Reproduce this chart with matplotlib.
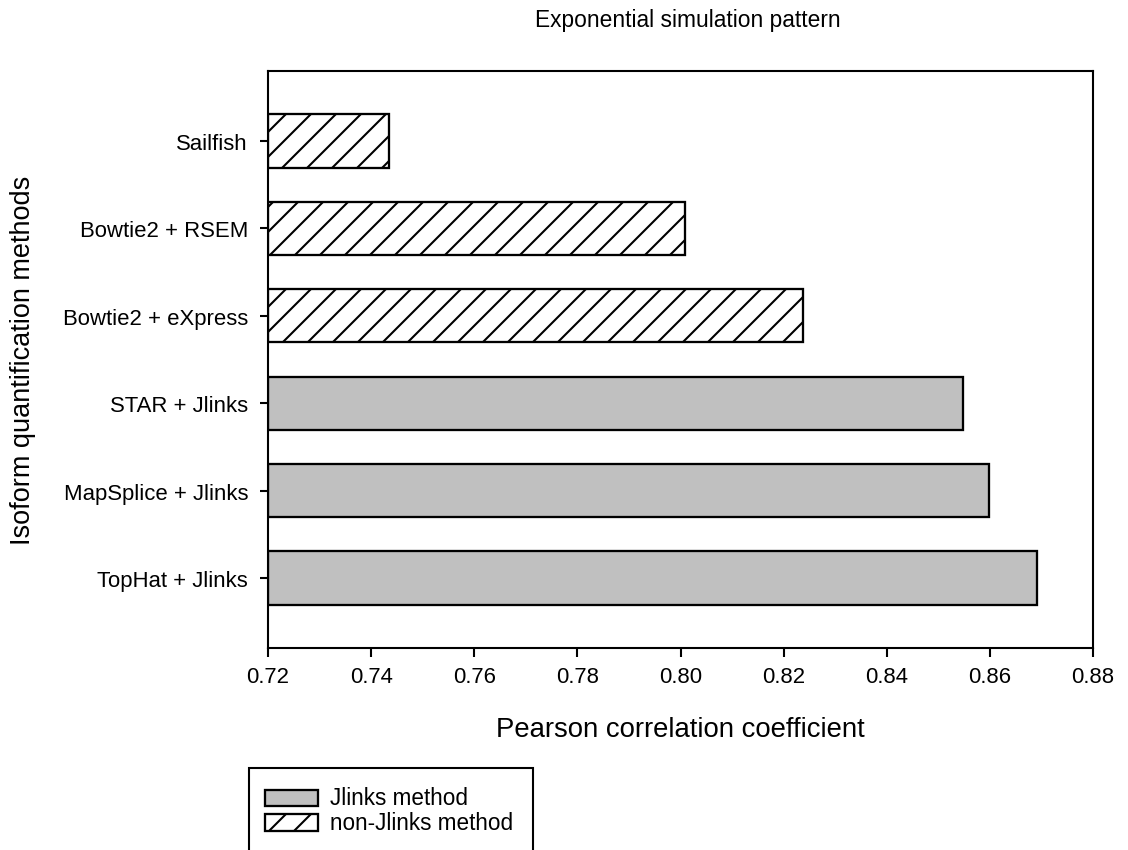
import matplotlib
matplotlib.use("Agg")
import matplotlib.pyplot as plt
from matplotlib.patches import Rectangle

# Data
methods = ["TopHat + Jlinks", "MapSplice + Jlinks", "STAR + Jlinks",
           "Bowtie2 + eXpress", "Bowtie2 + RSEM", "Sailfish"]
pearson = [0.8691, 0.8599, 0.8547, 0.8237, 0.8008, 0.7435]
is_jlinks = [True, True, True, False, False, False]
xticks = [0.72, 0.74, 0.76, 0.78, 0.80, 0.82, 0.84, 0.86, 0.88]

W, H, DPI = 1128, 851, 150
plt.rcParams["font.family"] = ["Liberation Sans", "DejaVu Sans"]
plt.rcParams["hatch.linewidth"] = 1.0

fig = plt.figure(figsize=(W / DPI, H / DPI), dpi=DPI)


def fx(x):
    return x / W


def fy(y):
    return 1 - y / H


ax = fig.add_axes([fx(268), fy(649), fx(1093) - fx(268), fy(72) - fy(649)])

xmin = xticks[0]
gray = "#c0c0c0"
for i, (v, j) in enumerate(zip(pearson, is_jlinks)):
    if j:
        ax.barh(i, v - xmin, left=xmin, height=0.61, color=gray,
                edgecolor="black", linewidth=1.1)
    else:
        ax.barh(i, v - xmin, left=xmin, height=0.61, color="white",
                edgecolor="black", linewidth=1.1, hatch="//")

ax.set_xlim(0.72, 0.88)
ax.set_ylim(-0.8, 5.8)
ax.set_xticks(xticks)
ax.set_xticklabels([f"{t:.2f}" for t in xticks])
ax.set_yticks(range(len(methods)))
ax.set_yticklabels(methods)
ax.tick_params(axis="x", direction="out", length=4.3, width=1.0,
               labelsize=10.6, pad=4.5, top=False)
ax.tick_params(axis="y", direction="out", length=3.8, width=1.0,
               labelsize=10.6, pad=5.8, right=False)
for s in ax.spines.values():
    s.set_linewidth(1.0)

fig.text(fx(688), fy(27), "Exponential simulation pattern", ha="center",
         va="baseline", fontsize=10.9)
fig.text(fx(680.5), fy(737), "Pearson correlation coefficient", ha="center",
         va="baseline", fontsize=13.2)
fig.text(fx(23.5), fy(360), "Isoform quantification methods", ha="center",
         va="center", rotation=90, fontsize=13.0)

# Legend drawn below the axes
box = Rectangle((fx(249), fy(900)), fx(533) - fx(249), fy(769) - fy(900),
                transform=fig.transFigure, facecolor="white",
                edgecolor="black", linewidth=1.0, clip_on=False)
fig.add_artist(box)
h1 = Rectangle((fx(265), fy(807)), fx(318) - fx(265), fy(791) - fy(807),
               transform=fig.transFigure, facecolor=gray,
               edgecolor="black", linewidth=1.1)
fig.add_artist(h1)
h2 = Rectangle((fx(265), fy(832)), fx(318) - fx(265), fy(815) - fy(832),
               transform=fig.transFigure, facecolor="white",
               edgecolor="black", linewidth=1.1, hatch="//")
fig.add_artist(h2)
fig.text(fx(330), fy(799), "Jlinks method", ha="left", va="center",
         fontsize=10.8)
fig.text(fx(330), fy(824), "non-Jlinks method", ha="left", va="center",
         fontsize=10.8)

fig.savefig("out.png", dpi=DPI)
